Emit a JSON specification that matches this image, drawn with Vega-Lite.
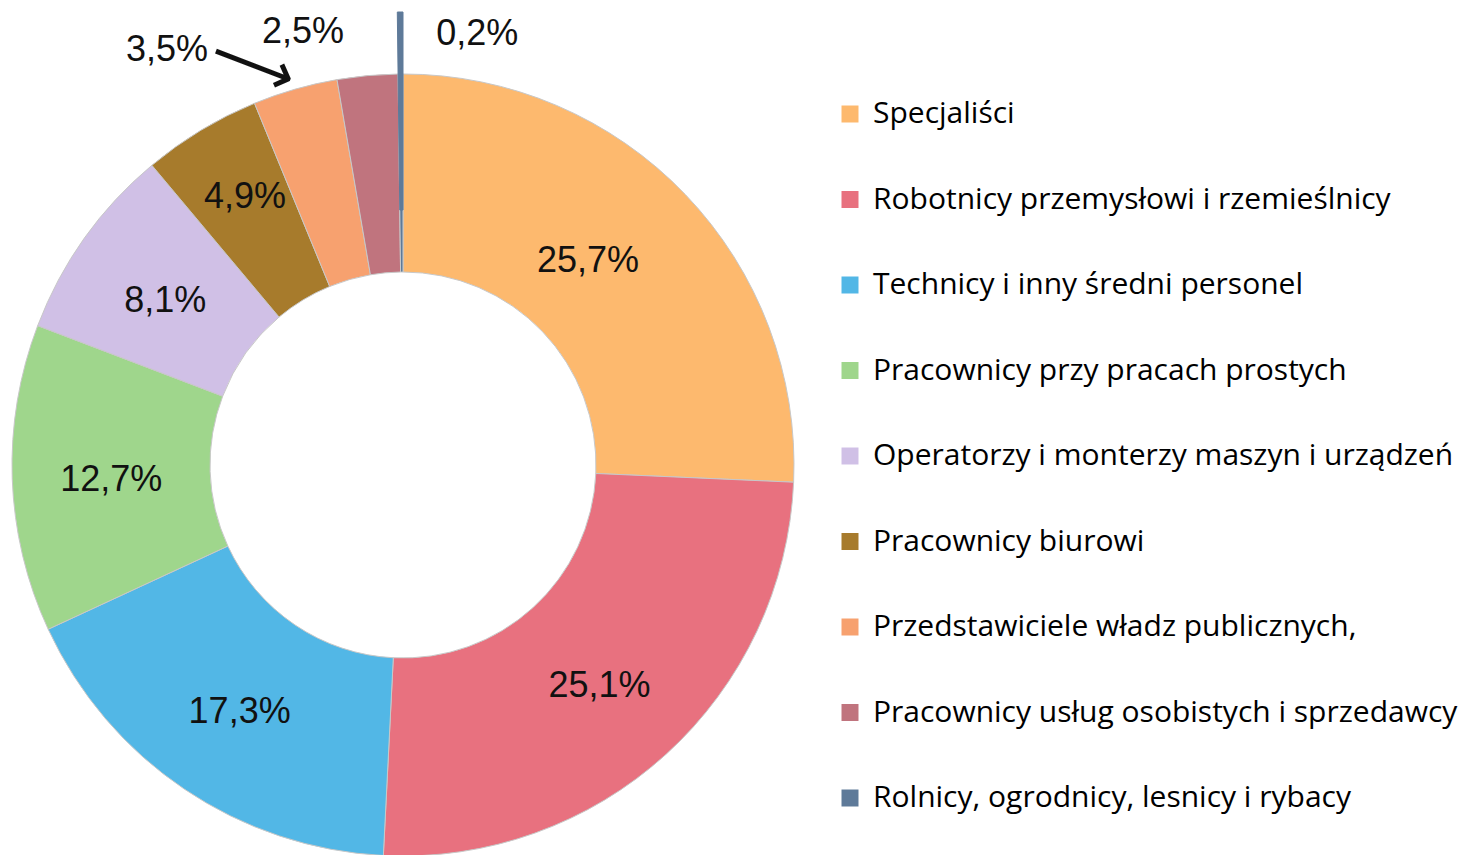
{
  "$schema": "https://vega.github.io/schema/vega-lite/v6.json",
  "autosize": "none",
  "padding": {"left": 12, "top": 75, "right": 680, "bottom": 0},
  "width": 782,
  "height": 780,
  "background": "white",
  "data": {"values": [
    {"cat": "Specjaliści", "value": 25.7, "label": "25,7%", "ord": 1},
    {"cat": "Robotnicy przemysłowi i rzemieślnicy", "value": 25.1, "label": "25,1%", "ord": 2},
    {"cat": "Technicy i inny średni personel", "value": 17.3, "label": "17,3%", "ord": 3},
    {"cat": "Pracownicy przy pracach prostych", "value": 12.7, "label": "12,7%", "ord": 4},
    {"cat": "Operatorzy i monterzy maszyn i urządzeń", "value": 8.1, "label": "8,1%", "ord": 5},
    {"cat": "Pracownicy biurowi", "value": 4.9, "label": "4,9%", "ord": 6},
    {"cat": "Przedstawiciele władz publicznych,", "value": 3.5, "label": "3,5%", "ord": 7},
    {"cat": "Pracownicy usług osobistych i sprzedawcy", "value": 2.5, "label": "2,5%", "ord": 8},
    {"cat": "Rolnicy, ogrodnicy, lesnicy i rybacy", "value": 0.2, "label": "0,2%", "ord": 9}
  ]},
  "encoding": {
    "theta": {"field": "value", "type": "quantitative", "stack": true},
    "order": {"field": "ord", "type": "quantitative"}
  },
  "layer": [
    {
      "mark": {"type": "arc", "outerRadius": 391, "innerRadius": 193, "stroke": "#c8c8c8", "strokeWidth": 1},
      "encoding": {
        "color": {
          "field": "cat", "type": "nominal", "sort": null,
          "scale": {
            "domain": ["Specjaliści", "Robotnicy przemysłowi i rzemieślnicy", "Technicy i inny średni personel", "Pracownicy przy pracach prostych", "Operatorzy i monterzy maszyn i urządzeń", "Pracownicy biurowi", "Przedstawiciele władz publicznych,", "Pracownicy usług osobistych i sprzedawcy", "Rolnicy, ogrodnicy, lesnicy i rybacy"],
            "range": ["#FDB96E", "#E8717F", "#52B7E6", "#9FD68C", "#D0C0E6", "#A77B2C", "#F7A16F", "#C0747E", "#5E7A99"]
          },
          "legend": {
            "orient": "none", "legendX": 823, "legendY": 24, "title": null,
            "symbolType": "square", "symbolSize": 289, "symbolStrokeWidth": 0,
            "labelFont": "Open Sans", "labelFontSize": 30, "labelColor": "#000000",
            "labelOffset": 8, "labelLimit": 700, "rowPadding": 55.5, "padding": 0
          }
        }
      }
    },
    {
      "mark": {"type": "arc", "outerRadius": 453, "innerRadius": 255, "fill": "#5E7A99", "stroke": "#5E7A99", "strokeWidth": 1},
      "encoding": {
        "opacity": {"condition": {"test": "datum.ord === 9", "value": 1}, "value": 0}
      }
    },
    {
      "mark": {"type": "text", "radius": 292, "dy": 5, "font": "Liberation Sans", "fontSize": 36, "fill": "#111111", "align": "center", "baseline": "middle"},
      "encoding": {
        "text": {"condition": {"test": "datum.ord > 5 || datum.ord === 1", "value": ""}, "field": "label"}
      }
    },
    {
      "mark": {"type": "text", "radius": 292, "dx": -26, "dy": -2, "font": "Liberation Sans", "fontSize": 36, "fill": "#111111", "align": "center", "baseline": "middle"},
      "encoding": {
        "text": {"condition": {"test": "datum.ord !== 1", "value": ""}, "field": "label"}
      }
    },
    {
      "mark": {"type": "text", "radius": 315, "dx": 5, "dy": 2, "font": "Liberation Sans", "fontSize": 36, "fill": "#111111", "align": "center", "baseline": "middle"},
      "encoding": {
        "text": {"condition": {"test": "datum.ord !== 6", "value": ""}, "field": "label"}
      }
    },
    {
      "mark": {"type": "text", "radius": 440, "dx": -60, "dy": 5, "font": "Liberation Sans", "fontSize": 36, "fill": "#111111", "align": "center", "baseline": "middle"},
      "encoding": {
        "text": {"condition": {"test": "datum.ord !== 8", "value": ""}, "field": "label"}
      }
    },
    {
      "mark": {"type": "text", "radius": 460, "dx": -109, "dy": 27, "font": "Liberation Sans", "fontSize": 36, "fill": "#111111", "align": "center", "baseline": "middle"},
      "encoding": {
        "text": {"condition": {"test": "datum.ord !== 7", "value": ""}, "field": "label"}
      }
    },
    {
      "mark": {"type": "text", "radius": 435, "dx": 77, "dy": 4, "font": "Liberation Sans", "fontSize": 36, "fill": "#111111", "align": "center", "baseline": "middle"},
      "encoding": {
        "text": {"condition": {"test": "datum.ord !== 9", "value": ""}, "field": "label"}
      }
    },
    {
      "mark": {"type": "text", "radius": 424, "dx": -28, "dy": 20, "angle": 21, "font": "DejaVu Sans", "fontSize": 60, "fill": "#111111", "align": "center", "baseline": "middle"},
      "encoding": {
        "text": {"condition": {"test": "datum.ord !== 7", "value": ""}, "value": "⟶"}
      }
    }
  ],
  "config": {"view": {"stroke": null}}
}
